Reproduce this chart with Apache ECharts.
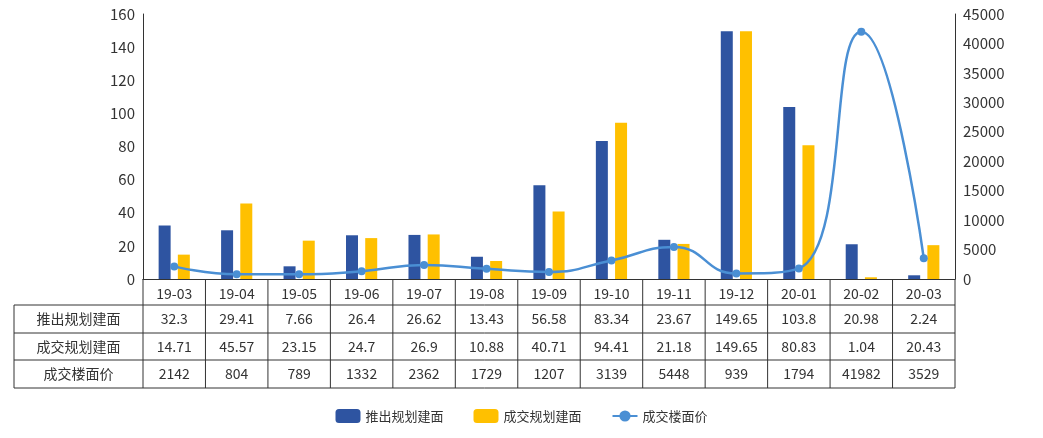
<!DOCTYPE html>
<html><head><meta charset="utf-8">
<script src="https://cdn.jsdelivr.net/npm/echarts@6/dist/echarts.min.js"></script>
<style>html,body{margin:0;padding:0;background:#fff}#c{width:1043px;height:438px}</style>
</head><body><div id="c"></div>
<script>
const categories=['19-03','19-04','19-05','19-06','19-07','19-08','19-09','19-10','19-11','19-12','20-01','20-02','20-03'];
const launched=[32.3,29.41,7.66,26.4,26.62,13.43,56.58,83.34,23.67,149.65,103.8,20.98,2.24];
const traded=[14.71,45.57,23.15,24.7,26.9,10.88,40.71,94.41,21.18,149.65,80.83,1.04,20.43];
const price=[2142,804,789,1332,2362,1729,1207,3139,5448,939,1794,41982,3529];
const launchedText=['32.3','29.41','7.66','26.4','26.62','13.43','56.58','83.34','23.67','149.65','103.8','20.98','2.24'];
const tradedText=['14.71','45.57','23.15','24.7','26.9','10.88','40.71','94.41','21.18','149.65','80.83','1.04','20.43'];
const names=['推出规划建面','成交规划建面','成交楼面价'];
const F='"Noto Sans CJK SC", "Noto Sans", sans-serif';
const chart=echarts.init(document.getElementById('c'));
chart.setOption({
  animation:false,
  textStyle:{fontFamily:F},
  grid:{left:143,right:88,top:14,bottom:159},
  legend:{bottom:10,left:'center',itemGap:30,textStyle:{fontSize:13,color:'#333',fontFamily:F},data:names},
  xAxis:{type:'category',data:categories,axisTick:{show:false},
    axisLine:{lineStyle:{color:'#333'}},axisLabel:{fontSize:14,color:'#333',margin:8,fontFamily:F}},
  yAxis:[{type:'value',min:0,max:160,interval:20,splitLine:{show:false},axisLine:{show:true,lineStyle:{color:'#333'}},axisLabel:{fontSize:15,color:'#333'}},
    {type:'value',min:0,max:45000,interval:5000,splitLine:{show:false},axisLine:{show:true,lineStyle:{color:'#333'}},axisLabel:{fontSize:15,color:'#333',formatter:v=>String(v)}}],
  series:[
    {name:names[0],type:'bar',data:launched,barWidth:12,barGap:'60%',itemStyle:{color:'#2E54A1'}},
    {name:names[1],type:'bar',data:traded,barWidth:12,itemStyle:{color:'#FFC000'}},
    {name:names[2],type:'line',yAxisIndex:1,data:price,smooth:true,symbol:'circle',symbolSize:8,lineStyle:{color:'#4A8FD4',width:2.5},itemStyle:{color:'#4A8FD4'}}
  ]
});
const rows=[launchedText,tradedText,price.map(String)];
const x0=chart.convertToPixel({xAxisIndex:0},0), x1=chart.convertToPixel({xAxisIndex:0},1);
const cw=x1-x0, left=x0-cw/2, right=left+cw*categories.length;
const yb=chart.convertToPixel({yAxisIndex:0},0);
const rh=[26,28,27,28];
let ys=[yb];rh.forEach(h=>ys.push(ys[ys.length-1]+h));
const tableLeft=14;
const els=[];
const ls={stroke:'#333',lineWidth:1};
for(let r=1;r<=4;r++)els.push({type:'line',shape:{x1:tableLeft,y1:ys[r],x2:right,y2:ys[r]},style:ls});
els.push({type:'line',shape:{x1:tableLeft,y1:ys[1],x2:tableLeft,y2:ys[4]},style:ls});
for(let i=0;i<=categories.length;i++)els.push({type:'line',shape:{x1:left+i*cw,y1:ys[0],x2:left+i*cw,y2:ys[4]},style:ls});
for(let r=0;r<3;r++){
  const cy=(ys[r+1]+ys[r+2])/2;
  els.push({type:'text',x:(tableLeft+left)/2,y:cy,style:{text:names[r],fontSize:14,fill:'#333',align:'center',verticalAlign:'middle',fontFamily:F}});
  rows[r].forEach((t,i)=>els.push({type:'text',x:left+(i+0.5)*cw,y:cy,style:{text:t,fontSize:14,fill:'#333',align:'center',verticalAlign:'middle',fontFamily:F}}));
}
chart.setOption({graphic:els});
</script></body></html>
